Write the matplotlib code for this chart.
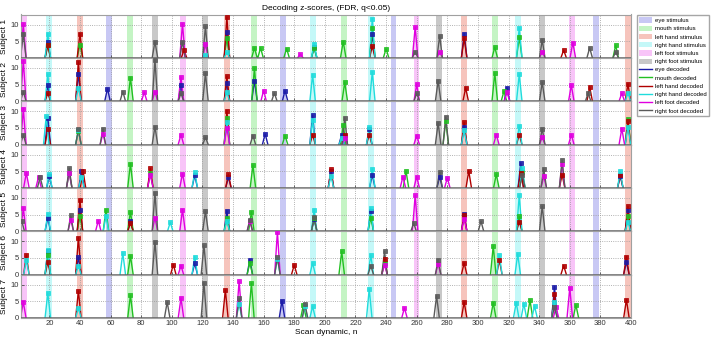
import numpy as np
import matplotlib
matplotlib.use("Agg")
import matplotlib.pyplot as plt
from matplotlib.patches import Patch
from matplotlib.lines import Line2D

plt.rcParams["font.family"] = ["Liberation Sans", "DejaVu Sans"]

TYPES = ["eye", "mouth", "left hand", "right hand", "left foot", "right foot"]
STIM_COL = ["#c8c8f4", "#c4f4c4", "#f6c4bc", "#c4f8f8", "#f8c4f8", "#c8c8c8"]
DEC_COL = ["#1c1ca8", "#22c022", "#b00000", "#20dcdc", "#e000e0", "#5a5a5a"]

# stimulus onsets (scan dynamic) per type
STIM_ON = {
    "eye": [57, 171, 243, 375.5],
    "mouth": [71, 152, 210.5, 309],
    "left hand": [38, 134, 289, 396],
    "right hand": [18, 190.5, 228, 324.5],
    "left foot": [1.5, 105.5, 258, 359.5],
    "right foot": [87, 120, 272.5, 340],
}
STIM_W = 3.8

# decoded detections (n, z) per subject / type
S1 = {
    "eye": [(19, 4.9), (136, 7.8), (193, 3.2), (231, 7.1), (291, 7.3)],
    "mouth": [(19, 3.8), (40, 3.9), (136, 6.0), (154, 3.0), (158, 3.0), (175, 2.8), (193, 3.0),
              (212, 4.9), (231, 8.9), (240, 2.7), (311, 3.2), (327, 6.2), (390, 3.8)],
    "left hand": [(19, 3.8), (40, 7.3), (108, 2.3), (136, 12.2), (231, 3.5), (291, 5.9), (356, 2.3)],
    "right hand": [(19, 7.3), (122, 1.0), (136, 1.7), (193, 4.3), (231, 11.8), (327, 9.1)],
    "left foot": [(3, 10.2), (107, 10.2), (122, 4.1), (184, 1.1), (259, 9.2), (275, 1.8), (342, 1.9), (362, 4.6)],
    "right foot": [(3, 7.3), (89, 4.9), (107, 4.9), (122, 9.5), (259, 1.9), (275, 6.6), (342, 5.4),
                   (373, 3.0), (390, 1.8)],
}
S2 = {
    "eye": [(19, 4.8), (39, 8.3), (58, 3.8), (106, 4.8), (136, 5.4), (154, 6.2), (174, 3.2), (319, 4.1)],
    "mouth": [(73, 7.0), (154, 9.9), (213, 5.7), (311, 8.5), (317, 3.0)],
    "left hand": [(19, 2.4), (39, 11.8), (136, 7.5), (292, 4.0), (373, 4.3), (398, 5.2)],
    "right hand": [(19, 8.1), (39, 4.1), (136, 2.7), (192, 8.0), (231, 8.8), (327, 8.1), (398, 2.5)],
    "left foot": [(3, 12.2), (82, 2.7), (89, 2.9), (106, 7.3), (160, 3.2), (260, 5.1), (319, 2.7),
                  (361, 4.8), (394, 2.4)],
    "right foot": [(3, 2.9), (68, 2.9), (89, 12.4), (106, 2.4), (122, 8.4), (167, 2.5), (260, 2.4),
                   (274, 6.2), (342, 5.7), (372, 2.4)],
}
S3 = {
    "eye": [(19, 8.1), (161, 3.2), (192, 8.8), (211, 3.0), (229, 4.6), (291, 5.4)],
    "mouth": [(39, 4.0), (136, 8.1), (174, 2.7), (212, 5.9), (279, 7.0), (398, 7.8)],
    "left hand": [(19, 4.6), (136, 10.2), (192, 3.0), (213, 3.0), (229, 3.0), (291, 6.7), (327, 3.0), (398, 7.0)],
    "right hand": [(18, 8.6), (39, 4.3), (136, 6.7), (192, 7.5), (211, 2.0), (229, 5.4), (291, 4.3),
                   (327, 5.7), (398, 5.4)],
    "left foot": [(3, 10.8), (55, 3.2), (106, 3.0), (136, 5.1), (213, 2.0), (260, 2.7), (312, 3.0),
                  (342, 2.2), (361, 3.0), (394, 4.8)],
    "right foot": [(3, 3.0), (39, 4.6), (55, 4.8), (89, 5.4), (122, 2.2), (153, 2.7), (213, 8.1),
                   (274, 6.5), (279, 8.3), (342, 4.8)],
}
S4 = {
    "eye": [(20, 3.5), (41, 5.0), (115, 3.8), (137, 3.2), (204, 5.2), (231, 4.0), (275, 3.4), (328, 7.5), (393, 3.5)],
    "mouth": [(33, 4.5), (73, 7.3), (86, 4.5), (153, 6.8), (253, 5.1), (312, 4.1), (329, 4.8)],
    "left hand": [(42, 5.2), (86, 5.9), (137, 4.1), (204, 5.6), (294, 5.1), (328, 4.6), (355, 4.0), (393, 4.0)],
    "right hand": [(20, 4.3), (41, 3.4), (115, 4.7), (204, 3.5), (231, 5.7), (329, 5.9), (393, 5.1)],
    "left foot": [(5, 4.5), (13, 3.4), (33, 4.6), (86, 4.0), (107, 4.3), (251, 3.4), (260, 3.4),
                  (280, 3.0), (343, 3.5), (355, 7.3)],
    "right foot": [(14, 3.2), (33, 5.9), (275, 4.7), (329, 3.8), (343, 5.7), (355, 8.4)],
}
S5 = {
    "eye": [(19, 4.1), (40, 6.5), (73, 3.2), (136, 6.2), (193, 3.6), (230, 6.2), (291, 5.1), (398, 6.5)],
    "mouth": [(40, 4.5), (57, 6.5), (73, 5.9), (136, 4.0), (152, 5.9), (193, 4.0), (230, 4.0), (327, 4.5), (398, 4.5)],
    "left hand": [(40, 9.4), (73, 2.5), (291, 4.8), (327, 2.9), (398, 7.5)],
    "right hand": [(19, 5.2), (57, 4.5), (99, 2.7), (136, 3.0), (193, 6.5), (230, 7.0), (327, 10.8), (398, 2.9)],
    "left foot": [(3, 7.0), (34, 3.5), (52, 3.2), (89, 4.1), (107, 6.5), (151, 3.0), (259, 10.8), (291, 3.8)],
    "right foot": [(2, 3.0), (34, 4.8), (89, 11.6), (122, 6.1), (151, 3.5), (193, 4.3), (258, 2.5),
                   (302, 3.0), (342, 7.5)],
}
S6 = {
    "eye": [(19, 7.0), (39, 5.2), (115, 3.4), (151, 4.5), (397, 3.8)],
    "mouth": [(19, 5.9), (73, 5.6), (151, 3.5), (211, 7.0), (239, 3.5), (310, 8.6)],
    "left hand": [(5, 5.9), (19, 3.8), (39, 11.1), (101, 3.0), (180, 2.9), (239, 4.6), (291, 3.5),
                  (314, 4.3), (356, 2.7), (397, 5.4)],
    "right hand": [(5, 4.3), (19, 7.3), (39, 2.7), (68, 6.5), (115, 5.4), (169, 4.8), (192, 3.5),
                   (230, 5.9), (314, 5.9), (326, 6.2)],
    "left foot": [(106, 2.7), (169, 12.9), (239, 3.0), (274, 3.2)],
    "right foot": [(89, 9.9), (121, 8.8), (169, 5.2), (230, 2.7), (239, 7.0), (274, 4.5)],
}
S7 = {
    "eye": [(172, 5.2), (350, 9.4)],
    "mouth": [(73, 6.8), (152, 10.5), (186, 3.9), (310, 4.6), (334, 5.4), (364, 3.9)],
    "left hand": [(39, 8.1), (135, 8.4), (291, 4.8), (350, 7.1), (397, 5.5)],
    "right hand": [(19, 7.5), (39, 3.0), (144, 4.3), (187, 3.5), (192, 3.5), (229, 8.7), (325, 4.6),
                   (330, 4.3), (337, 3.5), (350, 4.9)],
    "left foot": [(3, 4.8), (106, 6.0), (144, 11.1), (252, 3.0), (351, 3.2), (360, 9.1)],
    "right foot": [(97, 4.8), (121, 10.5), (144, 5.9), (187, 4.2), (273, 6.6), (350, 3.2)],
}
SUBJECTS = [S1, S2, S3, S4, S5, S6, S7]

XTICKS = list(range(20, 401, 20))
YTICKS = [0, 5, 10]
HALF = 1.8  # half-width of each spike base, in scans


def spikes(det):
    xs, ys = [], []
    for n, z in det:
        xs += [n - HALF, n, n + HALF, np.nan]
        ys += [0, z, 0, np.nan]
    return xs, ys


W, H = 712, 338
fig = plt.figure(figsize=(W / 100, H / 100), dpi=100)
left, right = 21 / W, 631 / W
top, bot = 1 - 14.5 / H, 1 - 318 / H
ph = (top - bot) / 7

for i, subj in enumerate(SUBJECTS):
    ax = fig.add_axes([left, top - (i + 1) * ph, right - left, ph])
    for t, c in zip(TYPES, STIM_COL):
        for s in STIM_ON[t]:
            ax.axvspan(s, s + STIM_W, color=c, lw=0, zorder=0)
    ax.grid(True, ls=":", color="#999999", lw=0.6, zorder=0.5)
    ax.set_axisbelow(True)
    for t, c in zip(TYPES, DEC_COL):
        xs, ys = spikes(subj[t])
        ax.plot(xs, ys, color=c, lw=1.0, zorder=2)
        ax.plot([d[0] for d in subj[t]], [d[1] for d in subj[t]], ls="none", marker="s",
                ms=3.2, mfc=c, mec=c, mew=0.6, alpha=0.9, zorder=3)
    ax.axhline(0, color="#606060", lw=1.8, zorder=4)
    ax.set_xlim(1.5, 400)
    ax.set_ylim(0, 13)
    ax.set_xticks(XTICKS)
    ax.set_yticks(YTICKS)
    ax.tick_params(direction="in", length=2, width=0.5, labelsize=5.5, colors="#333333", pad=1.5)
    for sp in ax.spines.values():
        sp.set_color("#a0a0a0")
        sp.set_linewidth(0.8)
    ax.set_ylabel(f"Subject {i + 1}", fontsize=6, labelpad=2)
    if i < 6:
        ax.tick_params(labelbottom=False)
    else:
        ax.set_xlabel("Scan dynamic, n", fontsize=6, labelpad=1.5)
    if i == 0:
        ax.set_title("Decoding z-scores, (FDR, q<0.05)", fontsize=6, pad=3)

handles = [Patch(facecolor=c, edgecolor="none", label=f"{t} stimulus") for t, c in zip(TYPES, STIM_COL)]
handles += [Line2D([], [], color=c, lw=1, label=f"{t} decoded") for t, c in zip(TYPES, DEC_COL)]
fig.legend(handles=handles, loc="upper left", bbox_to_anchor=(637 / W, 1 - 15 / H), fontsize=4.3,
           frameon=True, fancybox=False, edgecolor="#909090", handlelength=2.1, handleheight=1.0,
           labelspacing=0.42, borderpad=0.4, handletextpad=0.55, borderaxespad=0)

fig.savefig("out.png", dpi=100)
